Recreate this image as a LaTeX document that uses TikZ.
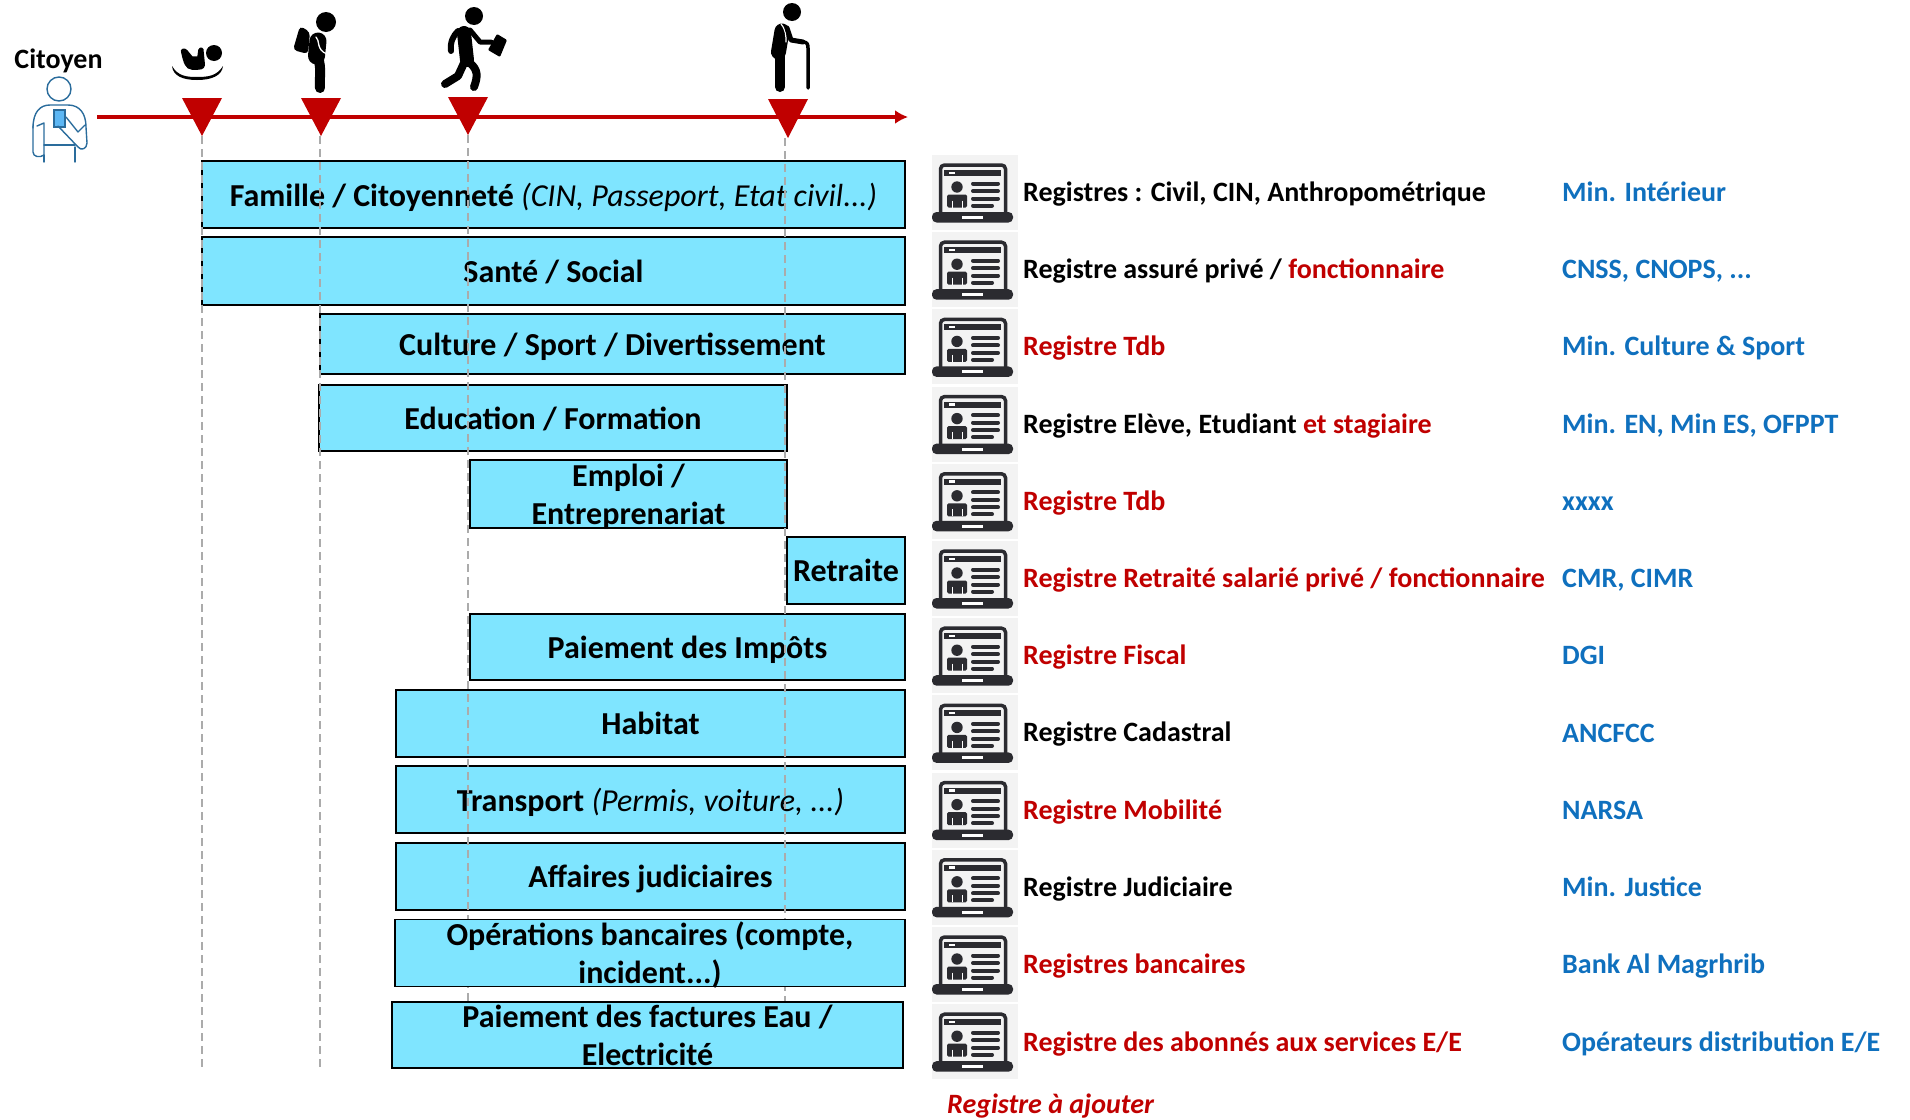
\documentclass[tikz,border=0pt]{standalone}
\usepackage{xcolor}
\usepackage{fontspec}
\setmainfont{Carlito}
\usepackage{tikz}
\usetikzlibrary{arrows.meta,positioning}
\definecolor{rouge}{HTML}{C00000}
\definecolor{bleuboite}{HTML}{7FE5FF}
\definecolor{bleutexte}{HTML}{0F70BE}
\definecolor{bleuligne}{HTML}{2A6C9C}
\definecolor{bleuphone}{HTML}{5DB7F4}
\definecolor{gristiret}{HTML}{ABABAB}
\definecolor{fondicone}{HTML}{F3F3F3}
\definecolor{noiricone}{HTML}{2B2B30}
\tikzset{
  boite/.style={draw=black,line width=1.8pt,fill=bleuboite,inner sep=0pt,align=center,text depth=0pt,font=\fontsize{32}{38}\selectfont\bfseries},
  registre/.style={anchor=west,inner sep=0pt,text height=24pt,text depth=4pt,font=\fontsize{28}{32}\selectfont\bfseries},
  ministere/.style={registre,text=bleutexte},
  tiret/.style={draw=gristiret,line width=1.2pt,dash pattern=on 8pt off 5pt},
  noirfig/.style={black,line cap=round,line join=round},
  citoyenfig/.style={draw=bleuligne,line width=1.4pt,line join=round,line cap=round},
  laptop/.pic={
    \fill[fondicone] (-43,-37.5) rectangle (43,37.5);
    \draw[noiricone,line width=3.5pt,rounded corners=4pt] (-34.5,20) -- (-34.5,-27.5) -- (30.5,-27.5) -- (30.5,20);
    \fill[noiricone] (-31,-22.5) rectangle (26,-16.5);
    \fill[white] (-26,-21) rectangle (-20,-18.5);
    \fill[noiricone] (-18,-5.5) circle (5.7);
    \fill[noiricone,rounded corners=1.5pt] (-28,15) -- (-28,2) -- (-8,2) -- (-8,15) -- cycle;
    \draw[white,line width=.8pt] (-23,8) -- (-23,15) (-13,8) -- (-13,15);
    \draw[noiricone,line width=4pt,line cap=round] (-2,-9) -- (23,-9) (-2,-1.5) -- (23,-1.5) (-2,6) -- (23,6) (-2,13) -- (17,13);
    \fill[noiricone,rounded corners=4.5pt] (-43,19.5) rectangle (38,30);
    \fill[white] (-13,23.5) rectangle (8,26.5);
  }
}
\begin{document}
\begin{tikzpicture}[x=1pt,y=-1pt]
\useasboundingbox (0,0) rectangle (1910,1119);
% les boites
\node[boite,minimum width=703pt,minimum height=67pt] (famille) at (553.5,194.5) {Famille / Citoyenneté \textmd{\itshape (CIN, Passeport, Etat civil...)}};
\node[boite,minimum width=703pt,minimum height=68pt] (sante) at (553.5,271) {Santé / Social};
\node[boite,minimum width=585pt,minimum height=60pt] (culture) at (612.5,344) {Culture / Sport / Divertissement};
\node[boite,minimum width=468pt,minimum height=66pt] (education) at (553,418) {Education / Formation};
\node[boite,minimum width=317pt,minimum height=68pt] (emploi) at (628.5,494) {Emploi /\\Entreprenariat};
\node[boite,minimum width=118pt,minimum height=67pt] (retraite) at (846,570.5) {Retraite};
\node[boite,minimum width=435pt,minimum height=66pt] (impots) at (687.5,647) {Paiement des Impôts};
\node[boite,minimum width=509pt,minimum height=67pt] (habitat) at (650.5,723.5) {Habitat};
\node[boite,minimum width=509pt,minimum height=67pt] (transport) at (650.5,799.5) {Transport \textmd{\itshape (Permis, voiture, ...)}};
\node[boite,minimum width=509pt,minimum height=67pt] (affaires) at (650.5,876.5) {Affaires judiciaires};
% la frise
\coordinate (axedebut) at (97,117);
\coordinate (axefin) at (908,117);
\draw[rouge,line width=4.5pt,-{Latex[length=13pt,width=14pt]}] (axedebut) -- (axefin);
\coordinate (age1) at (202,136);
\coordinate (age2) at (321,136);
\coordinate (age3) at (468,135);
\coordinate (age4) at (788,138);
\fill[rouge] (age1) -- +(-20,-38) -- +(20,-38) -- cycle;
\fill[rouge] (age2) -- +(-20,-38) -- +(20,-38) -- cycle;
\fill[rouge] (age3) -- +(-20,-38) -- +(20,-38) -- cycle;
\fill[rouge] (age4) -- +(-20,-39) -- +(20,-39) -- cycle;
\coordinate (tir2) at (320,136);
\coordinate (tir4) at (785,138);
\coordinate (fin1) at (202,1068);
\coordinate (fin2) at (320,1068);
\coordinate (fin3) at (468,1070);
\coordinate (fin4) at (785,1070);
\draw[tiret] (age1) -- (fin1);
\draw[tiret] (tir2) -- (fin2);
\draw[tiret] (age3) -- (fin3);
\draw[tiret] (tir4) -- (fin4);
\node[boite,minimum width=510pt,minimum height=67pt] (banque) at (650,953) {Opérations bancaires (compte,\\incident...)};
\node[boite,minimum width=511pt,minimum height=66pt] (factures) at (647.5,1035) {Paiement des factures Eau /\\Electricité};
% le citoyen
\node[inner sep=0pt,font=\fontsize{28}{32}\selectfont\bfseries] (citoyen) at (58.5,61) {Citoyen};
\draw[citoyenfig] (59,89) circle (12);
\fill[bleuphone,draw=bleuligne,line width=1.2pt] (54,110) rectangle (65,127);
\draw[citoyenfig] (33,128) .. controls (33,112) and (40,105) .. (50,105) -- (68,105) .. controls (80,105) and (86,114) .. (86,127) -- (87,143) .. controls (87,149) and (81,151) .. (78,147) -- (58,126);
\draw[citoyenfig] (66,117) -- (78,132) -- (85,125);
\draw[citoyenfig] (33,126) -- (33,152) .. controls (33,157) and (40,158) .. (44,155) -- (44,123) -- (37,126);
\draw[citoyenfig] (44,145) -- (75,145) (44,155) -- (44,162) (75,147) -- (75,162);
% les ages
\fill[noirfig] (214,53) circle (8);
\filldraw[noirfig,line width=1.5pt] (182,53) .. controls (180,49) and (185,48) .. (187,51) -- (192,57) -- (198,57) -- (199,50) .. controls (200,47) and (204,48) .. (203,52) -- (204,62) .. controls (205,67) and (203,69) .. (198,69) -- (192,69) .. controls (186,69) and (184,62) .. (182,53) -- cycle;
\fill[noirfig] (172,66) .. controls (178,76) and (186,77) .. (197,77) .. controls (208,77) and (217,76) .. (223,66) .. controls (222,76) and (211,80) .. (197,80) .. controls (183,80) and (173,76) .. (172,66) -- cycle;
\fill[noirfig] (326,22) circle (10);
\fill[noirfig,rounded corners=4pt] (300,26) -- (310,32) -- (308,54) -- (293,50) -- cycle;
\draw[noirfig,line width=17pt] (318,41) -- (316.5,56);
\draw[noirfig,line width=10pt] (318,58) .. controls (322,68) and (319,80) .. (320,88);
\draw[white,line width=1.3pt,line cap=round] (316,37) .. controls (320,40) and (316,50) .. (327,54);
\fill[noirfig] (474,16) circle (9);
\draw[noirfig,line width=14pt] (464,33) -- (467,60);
\draw[noirfig,line width=6pt] (458,31) .. controls (453,36) and (450,42) .. (451,51);
\draw[noirfig,line width=5pt] (470,30) -- (480,42) -- (491,42);
\fill[noirfig,rounded corners=1pt] (497,34) -- (507,40) -- (500,57) -- (488,50) -- cycle;
\draw[noirfig,line width=8pt] (464,63) -- (458,76) -- (445,84);
\draw[noirfig,line width=8pt] (470,63) .. controls (478,70) and (478,76) .. (474,87);
\fill[noirfig] (792,12) circle (9);
\draw[noirfig,line width=15pt] (782,31) -- (778.5,52);
\draw[noirfig,line width=10pt] (780,55) -- (780,87);
\draw[white,line width=1.2pt,line cap=round] (781,24) .. controls (786,30) and (786,36) .. (786,42);
\draw[noirfig,line width=5pt] (787,28) -- (791,40) -- (803,42);
\draw[noirfig,line width=3.5pt] (803,42) .. controls (807,42) and (808,44) .. (808,48) -- (808,88);
% les registres
\pic at (975,192.5) {laptop};
\pic at (975,269.7) {laptop};
\pic at (975,346.9) {laptop};
\pic at (975,424.1) {laptop};
\pic at (975,501.3) {laptop};
\pic at (975,578.5) {laptop};
\pic at (975,655.7) {laptop};
\pic at (975,732.9) {laptop};
\pic at (975,810.1) {laptop};
\pic at (975,887.3) {laptop};
\pic at (975,964.5) {laptop};
\pic at (975,1041.7) {laptop};
\node[registre] (reg1) at (1023,191) {Registres : Civil, CIN, Anthropométrique};
\node[registre] (reg2) at (1023,268) {Registre assuré privé / \textcolor{rouge}{fonctionnaire}};
\node[registre,text=rouge] (reg3) at (1023,345) {Registre Tdb};
\node[registre] (reg4) at (1023,423) {Registre Elève, Etudiant \textcolor{rouge}{et stagiaire}};
\node[registre,text=rouge] (reg5) at (1023,500) {Registre Tdb};
\node[registre,text=rouge] (reg6) at (1023,577) {Registre Retraité salarié privé / fonctionnaire};
\node[registre,text=rouge] (reg7) at (1023,654) {Registre Fiscal};
\node[registre] (reg8) at (1023,731) {Registre Cadastral};
\node[registre,text=rouge] (reg9) at (1023,809) {Registre Mobilité};
\node[registre] (reg10) at (1023,886) {Registre Judiciaire};
\node[registre,text=rouge] (reg11) at (1023,963) {Registres bancaires};
\node[registre,text=rouge] (reg12) at (1023,1041) {Registre des abonnés aux services E/E};
\node[ministere] (min1) at (1562,191) {Min. Intérieur};
\node[ministere] (min2) at (1562,268) {CNSS, CNOPS, ...};
\node[ministere] (min3) at (1562,345) {Min. Culture \& Sport};
\node[ministere] (min4) at (1562,423) {Min. EN, Min ES, OFPPT};
\node[ministere] (min5) at (1562,500) {xxxx};
\node[ministere] (min6) at (1562,577) {CMR, CIMR};
\node[ministere] (min7) at (1562,654) {DGI};
\node[ministere] (min8) at (1562,732) {ANCFCC};
\node[ministere] (min9) at (1562,809) {NARSA};
\node[ministere] (min10) at (1562,886) {Min. Justice};
\node[ministere] (min11) at (1562,963) {Bank Al Magrhrib};
\node[ministere] (min12) at (1562,1041) {Opérateurs distribution E/E};
\node[registre,text=rouge,font=\fontsize{28}{32}\selectfont\bfseries\itshape] (ajouter) at (947,1103) {Registre à ajouter};
\end{tikzpicture}
\end{document}
